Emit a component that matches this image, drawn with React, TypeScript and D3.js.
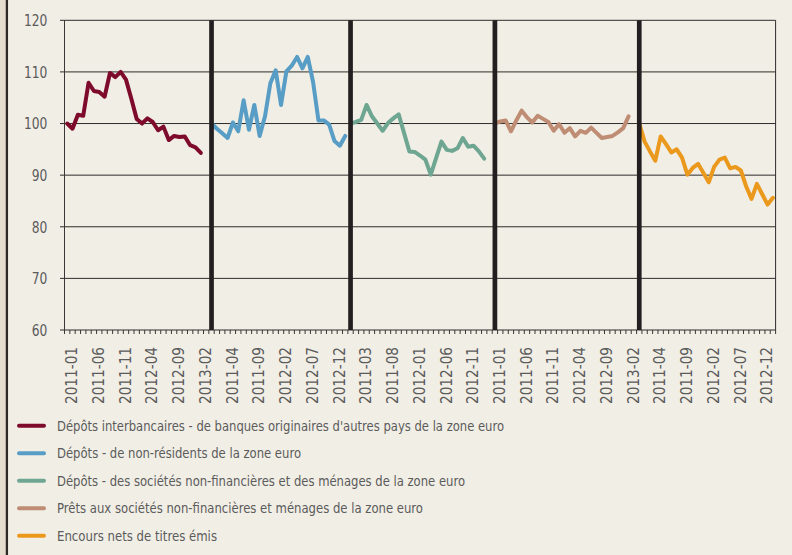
import React from "react";
import * as d3 from "d3";

// ---- Data -------------------------------------------------------------
const MONTHS = [
  "2011-01", "2011-02", "2011-03", "2011-04", "2011-05", "2011-06",
  "2011-07", "2011-08", "2011-09", "2011-10", "2011-11", "2011-12",
  "2012-01", "2012-02", "2012-03", "2012-04", "2012-05", "2012-06",
  "2012-07", "2012-08", "2012-09", "2012-10", "2012-11", "2012-12",
  "2013-01", "2013-02", "2013-03",
];
// number of axis categories each panel occupies
const PANEL_MONTH_COUNTS = [27, 26, 27, 27, 26];

const SERIES_INTERBANK = [100, 99.0, 101.7, 101.5, 107.9, 106.3, 106.1, 105.2, 109.8, 109.0, 110.0, 108.5, 104.8, 100.9, 100.0, 101.0, 100.3, 98.7, 99.4, 96.8, 97.6, 97.4, 97.5, 95.8, 95.4, 94.3];
const SERIES_NONRES = [100, 99.0, 98.1, 97.2, 100.2, 98.5, 104.5, 98.8, 103.6, 97.6, 101.4, 107.8, 110.3, 103.6, 110.1, 111.2, 112.9, 110.7, 112.9, 108.0, 100.6, 100.6, 99.8, 96.6, 95.7, 97.6];
const SERIES_SNF_MENAGES = [100, 100.3, 100.7, 103.6, 101.4, 100.0, 98.6, 100.1, 101.0, 101.8, 98.2, 94.6, 94.5, 93.8, 93.0, 90.1, 93.3, 96.5, 94.9, 94.7, 95.2, 97.2, 95.5, 95.7, 94.6, 93.2];
const SERIES_PRETS = [100, 100.4, 100.6, 98.5, 100.6, 102.5, 101.2, 100.2, 101.5, 100.9, 100.3, 98.6, 99.9, 98.2, 99.1, 97.5, 98.6, 98.2, 99.2, 98.2, 97.2, 97.4, 97.6, 98.3, 99.1, 101.4];
const SERIES_TITRES = [100, 96.5, 94.6, 92.8, 97.5, 96.0, 94.4, 95.0, 93.4, 90.1, 91.4, 92.2, 90.4, 88.6, 91.6, 93.0, 93.4, 91.3, 91.6, 90.9, 87.8, 85.4, 88.3, 86.3, 84.3, 85.6];

const SERIES_NAMES = [
  "Dépôts interbancaires - de banques originaires d'autres pays de la zone euro",
  "Dépôts - de non-résidents de la zone euro",
  "Dépôts - des sociétés non-financières et des ménages de la zone euro",
  "Prêts aux sociétés non-financières et ménages de la zone euro",
  "Encours nets de titres émis",
];
const SERIES_COLORS = ["#7e0b2b", "#589dc5", "#6ea692", "#bf8c74", "#ea991d"];
const ALL_SERIES = [SERIES_INTERBANK, SERIES_NONRES, SERIES_SNF_MENAGES, SERIES_PRETS, SERIES_TITRES];

const Y_TICKS = [60, 70, 80, 90, 100, 110, 120];
const LABEL_EVERY = 5;

// ---- Layout -----------------------------------------------------------
const W = 792;
const H = 555;
const PLOT = { left: 64.5, right: 775.6, top: 20.3, bottom: 330 };
const FONT = "'Liberation Sans Narrow', 'DejaVu Sans Condensed', 'Liberation Sans', sans-serif";
const TEXT_COLOR = "#5b5b5b";
const LEGEND_WIDTHS = [447, 244, 408, 366, 160];

export default function App() {
  const categories = PANEL_MONTH_COUNTS.flatMap((n) => MONTHS.slice(0, n));
  const starts: number[] = [];
  PANEL_MONTH_COUNTS.reduce((acc, n) => {
    starts.push(acc);
    return acc + n;
  }, 0);

  const x = d3
    .scaleBand<number>()
    .domain(d3.range(categories.length))
    .range([PLOT.left, PLOT.right])
    .padding(0);
  const bw = x.bandwidth();
  const cx = (i: number) => (x(i) as number) + bw / 2;
  const y = d3.scaleLinear().domain([60, 120]).range([PLOT.bottom, PLOT.top]);

  const line = d3
    .line<number>()
    .x((_, i) => 0)
    .y((d) => y(d));

  const paths = ALL_SERIES.map((vals, s) => {
    const gen = d3
      .line<number>()
      .x((_, i) => cx(starts[s] + i))
      .y((d) => y(d));
    return gen(vals) as string;
  });

  const legendY = (i: number) => 425.8 + i * 27.5;

  return (
    <div style={{ position: "absolute", left: 0, top: 0 }}>
      <svg width={W} height={H} style={{ display: "block" }}>
        <rect x={0} y={0} width={W} height={H} fill="#f1eee6" />
        <rect x={0} y={0} width={6} height={H} fill="#e4ddcf" />
        <line x1={6.9} x2={6.9} y1={0} y2={H} stroke="#2b2826" strokeWidth={2.3} />

        {/* gridlines + y ticks */}
        {Y_TICKS.map((t) => (
          <line key={t} x1={PLOT.left - 4.5} x2={PLOT.right} y1={y(t)} y2={y(t)} stroke="#2e2c2a" strokeWidth={1} />
        ))}
        {Y_TICKS.map((t) => (
          <text
            key={"l" + t}
            x={47.3}
            y={y(t)}
            dy="0.36em"
            textAnchor="end"
            fontFamily={FONT}
            fontSize={16}
            fill={TEXT_COLOR}
            textLength={String(t).length * 7.8}
            lengthAdjust="spacingAndGlyphs"
          >
            {t}
          </text>
        ))}

        {/* axes frame */}
        <line x1={PLOT.left} x2={PLOT.left} y1={PLOT.top} y2={PLOT.bottom} stroke="#3a3836" strokeWidth={1} />
        <line x1={PLOT.right} x2={PLOT.right} y1={PLOT.top} y2={PLOT.bottom} stroke="#2e2c2a" strokeWidth={1} />

        {/* x ticks */}
        {d3.range(categories.length + 1).map((i) => {
          const xx = PLOT.left + i * bw;
          return <line key={"t" + i} x1={xx} x2={xx} y1={PLOT.bottom} y2={PLOT.bottom + 4} stroke="#3a3836" strokeWidth={1} />;
        })}

        {/* series */}
        {paths.map((d, s) => (
          <path key={"s" + s} d={d} fill="none" stroke={SERIES_COLORS[s]} strokeWidth={4} strokeLinejoin="round" strokeLinecap="round" />
        ))}

        {/* panel dividers */}
        {starts.slice(1).map((st) => (
          <line key={"d" + st} x1={cx(st)} x2={cx(st)} y1={PLOT.top} y2={PLOT.bottom} stroke="#231f20" strokeWidth={4.7} />
        ))}

        {/* x labels */}
        {categories.map((c, i) =>
          i % LABEL_EVERY === 0 ? (
            <text
              key={"x" + i}
              transform={`translate(${cx(i) + 4.3},347) rotate(-90)`}
              dy="0.36em"
              textAnchor="end"
              fontFamily={FONT}
              fontSize={16}
              fill={TEXT_COLOR}
              textLength={57}
              lengthAdjust="spacingAndGlyphs"
            >
              {c}
            </text>
          ) : null
        )}

        {/* legend */}
        {SERIES_NAMES.map((n, i) => (
          <g key={"lg" + i}>
            <line x1={19} x2={44} y1={legendY(i)} y2={legendY(i)} stroke={SERIES_COLORS[i]} strokeWidth={4} strokeLinecap="round" />
            <text
              x={57}
              y={legendY(i)}
              dy="0.35em"
              fontFamily={FONT}
              fontSize={14}
              fill={TEXT_COLOR}
              textLength={LEGEND_WIDTHS[i]}
              lengthAdjust="spacingAndGlyphs"
            >
              {n}
            </text>
          </g>
        ))}
      </svg>
    </div>
  );
}
